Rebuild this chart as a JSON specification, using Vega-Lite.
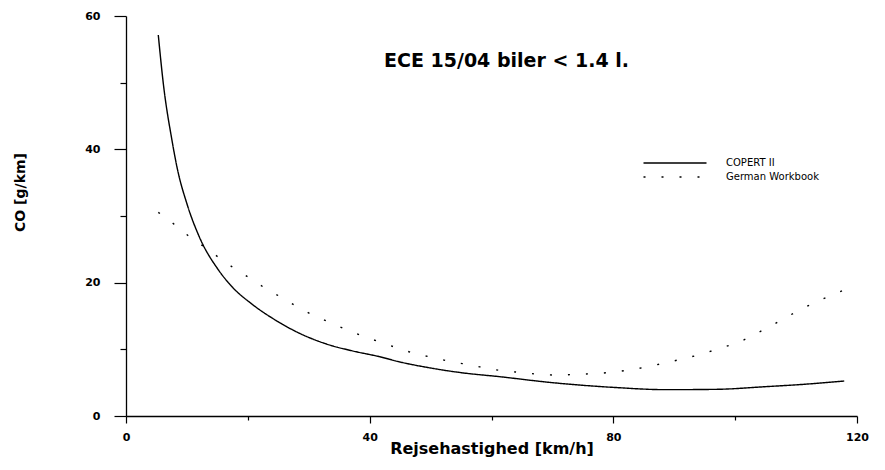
{
  "$schema": "https://vega.github.io/schema/vega-lite/v6.json",
  "width": 731,
  "height": 400,
  "autosize": {"type": "none"},
  "padding": {"left": 126, "top": 16, "right": 28, "bottom": 54},
  "background": "white",
  "title": {
    "text": "ECE 15/04 biler < 1.4 l.",
    "font": "DejaVu Sans",
    "fontSize": 19,
    "fontWeight": "bold",
    "color": "black",
    "anchor": "middle",
    "frame": "group",
    "baseline": "alphabetic",
    "offset": 0,
    "dx": 15,
    "dy": 76
  },
  "data": {
    "values": [
      {"series": "COPERT II", "speed": 5.3, "co": 57.15},
      {"series": "COPERT II", "speed": 6.16, "co": 49.6},
      {"series": "COPERT II", "speed": 7.52, "co": 41.5},
      {"series": "COPERT II", "speed": 8.4, "co": 37.2},
      {"series": "COPERT II", "speed": 10.05, "co": 31.7},
      {"series": "COPERT II", "speed": 12.07, "co": 26.8},
      {"series": "COPERT II", "speed": 15.18, "co": 21.9},
      {"series": "COPERT II", "speed": 17.5, "co": 19.3},
      {"series": "COPERT II", "speed": 20.8, "co": 16.7},
      {"series": "COPERT II", "speed": 24.5, "co": 14.4},
      {"series": "COPERT II", "speed": 28.5, "co": 12.4},
      {"series": "COPERT II", "speed": 32.9, "co": 10.8},
      {"series": "COPERT II", "speed": 37.0, "co": 9.8},
      {"series": "COPERT II", "speed": 41.6, "co": 8.9},
      {"series": "COPERT II", "speed": 45.0, "co": 8.1},
      {"series": "COPERT II", "speed": 50.0, "co": 7.2},
      {"series": "COPERT II", "speed": 55.0, "co": 6.5},
      {"series": "COPERT II", "speed": 61.3, "co": 5.9},
      {"series": "COPERT II", "speed": 70.0, "co": 5.0},
      {"series": "COPERT II", "speed": 79.9, "co": 4.3},
      {"series": "COPERT II", "speed": 88.7, "co": 3.95},
      {"series": "COPERT II", "speed": 96.9, "co": 4.0},
      {"series": "COPERT II", "speed": 105.0, "co": 4.4},
      {"series": "COPERT II", "speed": 112.0, "co": 4.8},
      {"series": "COPERT II", "speed": 117.9, "co": 5.25},
      {"series": "German Workbook", "speed": 5.3, "co": 30.55},
      {"series": "German Workbook", "speed": 7.85, "co": 28.8},
      {"series": "German Workbook", "speed": 10.26, "co": 27.0},
      {"series": "German Workbook", "speed": 12.8, "co": 25.4},
      {"series": "German Workbook", "speed": 15.2, "co": 23.8},
      {"series": "German Workbook", "speed": 17.7, "co": 22.2},
      {"series": "German Workbook", "speed": 20.3, "co": 20.7},
      {"series": "German Workbook", "speed": 22.8, "co": 19.2},
      {"series": "German Workbook", "speed": 25.5, "co": 17.8},
      {"series": "German Workbook", "speed": 28.1, "co": 16.4},
      {"series": "German Workbook", "speed": 31.0, "co": 15.0},
      {"series": "German Workbook", "speed": 33.6, "co": 14.0},
      {"series": "German Workbook", "speed": 36.3, "co": 12.9},
      {"series": "German Workbook", "speed": 39.2, "co": 11.9},
      {"series": "German Workbook", "speed": 42.0, "co": 11.0},
      {"series": "German Workbook", "speed": 44.9, "co": 10.1},
      {"series": "German Workbook", "speed": 47.9, "co": 9.25},
      {"series": "German Workbook", "speed": 50.6, "co": 8.75},
      {"series": "German Workbook", "speed": 53.6, "co": 8.1},
      {"series": "German Workbook", "speed": 56.7, "co": 7.65},
      {"series": "German Workbook", "speed": 59.7, "co": 7.05},
      {"series": "German Workbook", "speed": 62.4, "co": 6.75},
      {"series": "German Workbook", "speed": 65.1, "co": 6.5},
      {"series": "German Workbook", "speed": 67.9, "co": 6.25},
      {"series": "German Workbook", "speed": 70.8, "co": 6.15},
      {"series": "German Workbook", "speed": 73.9, "co": 6.25},
      {"series": "German Workbook", "speed": 76.6, "co": 6.35},
      {"series": "German Workbook", "speed": 79.6, "co": 6.55},
      {"series": "German Workbook", "speed": 82.6, "co": 6.9},
      {"series": "German Workbook", "speed": 85.6, "co": 7.4},
      {"series": "German Workbook", "speed": 88.7, "co": 8.0},
      {"series": "German Workbook", "speed": 91.7, "co": 8.65},
      {"series": "German Workbook", "speed": 94.6, "co": 9.3},
      {"series": "German Workbook", "speed": 97.4, "co": 10.15},
      {"series": "German Workbook", "speed": 100.4, "co": 11.0},
      {"series": "German Workbook", "speed": 103.2, "co": 12.25},
      {"series": "German Workbook", "speed": 106.0, "co": 13.6},
      {"series": "German Workbook", "speed": 110.6, "co": 15.9},
      {"series": "German Workbook", "speed": 114.0, "co": 17.4},
      {"series": "German Workbook", "speed": 117.9, "co": 18.9}
    ]
  },
  "mark": {"type": "line", "color": "black", "strokeWidth": 1.4, "interpolate": "monotone"},
  "encoding": {
    "x": {
      "field": "speed",
      "type": "quantitative",
      "scale": {"domain": [0, 120], "nice": false, "zero": false},
      "axis": {
        "title": "Rejsehastighed [km/h]",
        "values": [0, 20, 40, 60, 80, 100, 120],
        "labelExpr": "datum.value % 40 === 0 ? datum.label : ''",
        "tickSize": {"condition": {"test": "datum.value % 40 === 0", "value": 7}, "value": 4},
        "grid": false,
        "domainColor": "black",
        "domainWidth": 1.3,
        "tickColor": "black",
        "tickWidth": 1.2,
        "labelFont": "DejaVu Sans",
        "labelFontSize": 11,
        "labelFontWeight": "bold",
        "labelColor": "black",
        "labelPadding": 8,
        "labelFlush": false,
        "titleFont": "DejaVu Sans",
        "titleFontSize": 16,
        "titleFontWeight": "bold",
        "titleColor": "black",
        "titleBaseline": "alphabetic",
        "titleY": 37
      }
    },
    "y": {
      "field": "co",
      "type": "quantitative",
      "scale": {"domain": [0, 60], "nice": false},
      "axis": {
        "title": "CO [g/km]",
        "values": [0, 10, 20, 30, 40, 50, 60],
        "labelExpr": "datum.value % 20 === 0 ? datum.label : ''",
        "tickSize": {"condition": {"test": "datum.value % 20 === 0", "value": 12}, "value": 6},
        "grid": false,
        "domainColor": "black",
        "domainWidth": 1.3,
        "tickColor": "black",
        "tickWidth": 1.2,
        "labelFont": "DejaVu Sans",
        "labelFontSize": 11,
        "labelFontWeight": "bold",
        "labelColor": "black",
        "labelPadding": 14,
        "labelFlush": false,
        "titleFont": "DejaVu Sans",
        "titleFontSize": 14,
        "titleFontWeight": "bold",
        "titleColor": "black",
        "titleX": -99,
        "titleY": 176
      }
    },
    "strokeDash": {
      "field": "series",
      "type": "nominal",
      "scale": {"domain": ["COPERT II", "German Workbook"], "range": [[1, 0], [2, 16]]},
      "legend": {
        "title": null,
        "orient": "none",
        "legendX": 543,
        "legendY": 141,
        "padding": 0,
        "symbolType": "M-6.3,0H6.3",
        "symbolSize": 100,
        "symbolStrokeWidth": 1.3,
        "symbolStrokeColor": "black",
        "labelFont": "DejaVu Sans",
        "labelFontSize": 10,
        "labelColor": "black",
        "labelOffset": 45,
        "rowPadding": 3
      }
    }
  },
  "config": {"view": {"stroke": null}}
}
